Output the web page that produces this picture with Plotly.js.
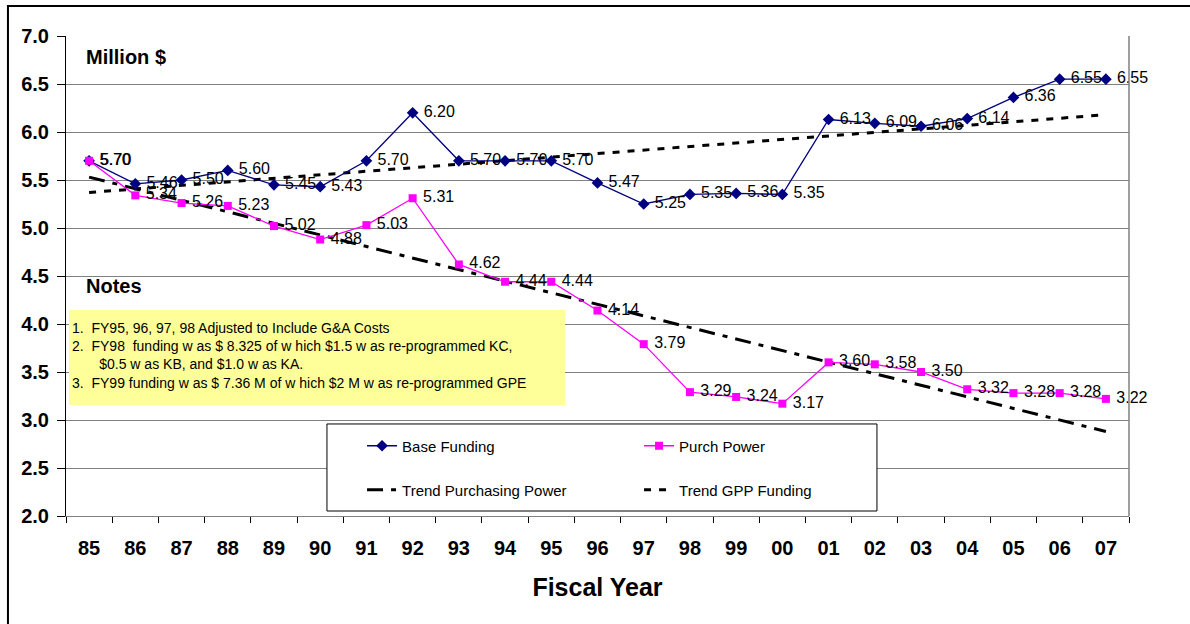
<!DOCTYPE html>
<html>
<head>
<meta charset="utf-8">
<script src="https://cdn.plot.ly/plotly-3.0.1.min.js"></script>
<style>
  html, body { margin: 0; padding: 0; background: #fff; }
  #chart { width: 1190px; height: 624px; }
</style>
</head>
<body>
<div id="chart"></div>
<script>
// ---- Data ----
const years = ["85","86","87","88","89","90","91","92","93","94","95","96","97","98","99","00","01","02","03","04","05","06","07"];
const baseFunding = [5.70,5.46,5.50,5.60,5.45,5.43,5.70,6.20,5.70,5.70,5.70,5.47,5.25,5.35,5.36,5.35,6.13,6.09,6.06,6.14,6.36,6.55,6.55];
const purchPower  = [5.70,5.34,5.26,5.23,5.02,4.88,5.03,5.31,4.62,4.44,4.44,4.14,3.79,3.29,3.24,3.17,3.60,3.58,3.50,3.32,3.28,3.28,3.22];
// Trend line end points
const trendYears = ["85","07"];
const trendPurchPower = [5.53, 2.88];
const trendGPPFunding = [5.37, 6.18];

const FONT = "Arial, 'Liberation Sans', sans-serif";

const traces = [
  {
    x: trendYears, y: trendPurchPower, name: "Trend Purchasing Power",
    type: "scatter", mode: "lines", legend: "legend2",
    line: {color: "#000000", width: 3, dash: "16px,8px,5px,8px"}
  },
  {
    x: trendYears, y: trendGPPFunding, name: "Trend GPP Funding",
    type: "scatter", mode: "lines", legend: "legend2",
    line: {color: "#000000", width: 3, dash: "7px,8px"}
  },
  {
    x: years, y: baseFunding, name: "Base Funding",
    type: "scatter", mode: "lines+markers+text", legend: "legend",
    cliponaxis: false,
    line: {color: "#000080", width: 1.3},
    marker: {symbol: "diamond", size: 9, color: "#000080"},
    texttemplate: "\u00a0%{y:.2f}", textposition: "middle right",
    textfont: {family: FONT, size: 16, color: "#000000"}
  },
  {
    x: years, y: purchPower, name: "Purch Power",
    type: "scatter", mode: "lines+markers+text", legend: "legend",
    cliponaxis: false,
    line: {color: "#FF00FF", width: 1.3},
    marker: {symbol: "square", size: 8, color: "#FF00FF"},
    texttemplate: "\u00a0%{y:.2f}", textposition: "middle right",
    textfont: {family: FONT, size: 16, color: "#000000"}
  }
];

const notesText =
  "1.  FY95, 96, 97, 98 Adjusted to Include G&A Costs<br>" +
  "2.  FY98  funding w as $ 8.325 of w hich $1.5 w as re-programmed KC,<br>" +
  "\u00a0\u00a0\u00a0\u00a0\u00a0\u00a0\u00a0$0.5 w as KB, and $1.0 w as KA.<br>" +
  "3.  FY99 funding w as $ 7.36 M of w hich $2 M w as re-programmed GPE";

const layout = {
  width: 1190, height: 624,
  margin: {l: 66, r: 61, t: 36, b: 108},
  paper_bgcolor: "#ffffff",
  plot_bgcolor: "rgba(0,0,0,0)",
  font: {family: FONT, color: "#000000"},
  xaxis: {
    type: "category",
    categoryorder: "array", categoryarray: years,
    range: [-0.5, 22.5],
    tickson: "boundaries",
    ticks: "outside", ticklen: 6, tickcolor: "#000000", tickwidth: 1,
    showline: true, linecolor: "#808080", linewidth: 1,
    showgrid: false, zeroline: false,
    tickfont: {family: FONT, size: 20, color: "#000000", weight: "bold"},
    ticklabelstandoff: 14,
    title: {text: "<b>Fiscal Year</b>", font: {family: FONT, size: 25, color: "#000000"}, standoff: 20}
  },
  yaxis: {
    range: [2, 7], dtick: 0.5, tick0: 2, tickformat: ".1f",
    ticks: "outside", ticklen: 8, tickcolor: "#000000", tickwidth: 1,
    showline: true, linecolor: "#000000", linewidth: 1,
    showgrid: true, gridcolor: "#808080", gridwidth: 1,
    zeroline: false,
    tickfont: {family: FONT, size: 20, color: "#000000", weight: "bold"},
    ticklabelstandoff: 4
  },
  showlegend: true,
  legend: {
    orientation: "h", x: 0.2785, xanchor: "left", y: 0.1458, yanchor: "middle",
    entrywidth: 232, entrywidthmode: "pixels",
    bgcolor: "rgba(0,0,0,0)", borderwidth: 0,
    font: {family: FONT, size: 15, color: "#000000"}, traceorder: "normal"
  },
  legend2: {
    orientation: "h", x: 0.2785, xanchor: "left", y: 0.054, yanchor: "middle",
    entrywidth: 232, entrywidthmode: "pixels",
    bgcolor: "rgba(0,0,0,0)", borderwidth: 0,
    font: {family: FONT, size: 15, color: "#000000"}, traceorder: "normal"
  },
  shapes: [
    // outer frame
    {type: "rect", xref: "paper", yref: "paper", x0: -0.0546, x1: 1.2, y0: -0.5, y1: 1.0625,
     line: {color: "#000000", width: 2}, fillcolor: "rgba(0,0,0,0)", layer: "below"},
    // right border of plot area
    {type: "line", xref: "paper", yref: "paper", x0: 1, x1: 1, y0: 0, y1: 1,
     line: {color: "#808080", width: 1.5}},
    // notes box
    {type: "rect", xref: "paper", yref: "paper", x0: 0.0028, x1: 0.4694, y0: 0.2313, y1: 0.4292,
     line: {width: 0}, fillcolor: "#FFFF99", layer: "above"},
    // legend box
    {type: "rect", xref: "paper", yref: "paper", x0: 0.2455, x1: 0.7629, y0: 0.0104, y1: 0.1917,
     line: {color: "#000000", width: 1}, fillcolor: "#ffffff", layer: "above"}
  ],
  annotations: [
    {xref: "paper", yref: "paper", x: 0.0169, y: 0.956, xanchor: "left", yanchor: "middle",
     text: "<b>Million $</b>", showarrow: false, font: {family: FONT, size: 20, color: "#000000"}},
    {xref: "paper", yref: "paper", x: 0.0169, y: 0.4792, xanchor: "left", yanchor: "middle",
     text: "<b>Notes</b>", showarrow: false, font: {family: FONT, size: 20, color: "#000000"}},
    {xref: "paper", yref: "paper", x: 0.0038, y: 0.4125, xanchor: "left", yanchor: "top",
     align: "left", text: notesText, showarrow: false,
     font: {family: FONT, size: 14, color: "#000000"}}
  ]
};

Plotly.newPlot("chart", traces, layout, {staticPlot: true, displayModeBar: false});
</script>
</body>
</html>
